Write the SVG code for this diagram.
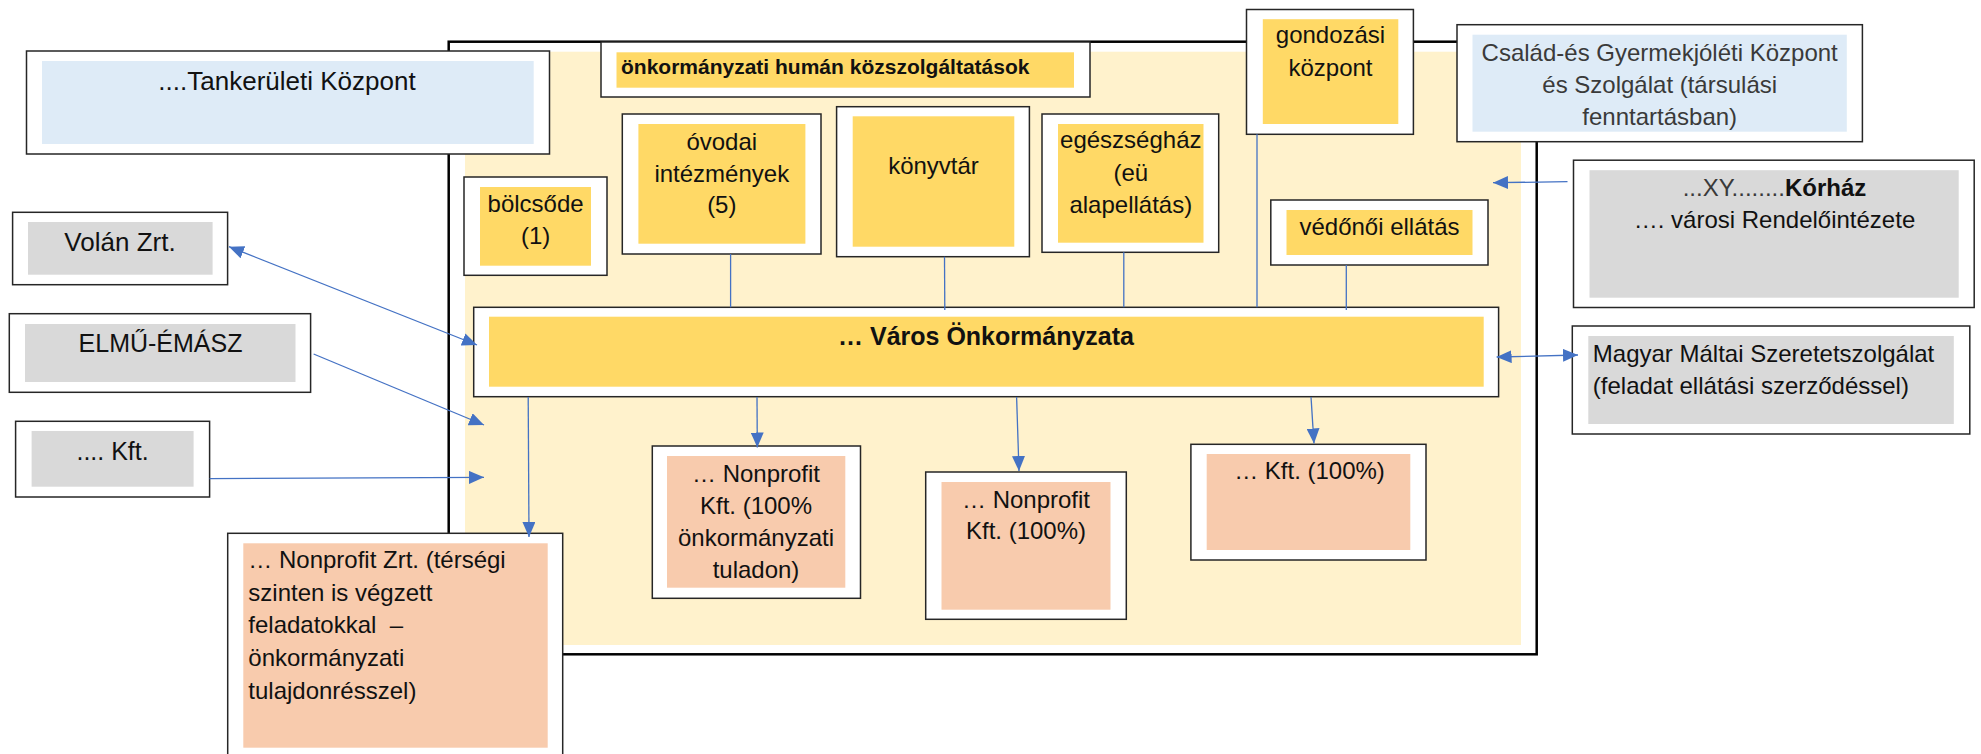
<svg xmlns="http://www.w3.org/2000/svg" width="1981" height="754" viewBox="0 0 1981 754">
<style>
.box{fill:#fff;stroke:#262626;stroke-width:1.5}
.frame{fill:#fff;stroke:#000;stroke-width:2.5}
.bg{fill:#FFF2CC}
.y{fill:#FFD966}
.b{fill:#DEEBF7}
.g{fill:#D9D9D9}
.s{fill:#F8CBAD}
text{font-family:"Liberation Sans",Arial,sans-serif;font-size:24px;fill:#111}
.c{text-anchor:middle}
.bd{font-weight:bold}
.dim{fill:#3a3a3a}
#connectors line{stroke:#4472C4;stroke-width:1.3;fill:none}
</style>
<defs>
<marker id="ah" viewBox="0 0 15 13" markerUnits="userSpaceOnUse" markerWidth="15" markerHeight="13" refX="15" refY="6.5" orient="auto-start-reverse">
<path d="M0,0 L15,6.5 L0,13 z" fill="#4472C4"/>
</marker>
</defs>
<rect width="1981" height="754" fill="#fff"/>

<g id="frame">
<rect class="frame" x="448.7" y="41.7" width="1088" height="612.6"/>
<rect class="bg" x="465" y="51.7" width="1056" height="593.3"/>
</g>

<g id="tankeruleti">
<rect class="box" x="26.5" y="51" width="523" height="103"/>
<rect class="b" x="42" y="61" width="491.7" height="83"/>
<text class="c" x="287" y="90" style="font-size:26px">....Tankerületi Központ</text>
</g>

<g id="human">
<rect class="box" x="601" y="42" width="489" height="55"/>
<rect class="y" x="616.5" y="52.3" width="457.5" height="35.4"/>
<text class="bd" x="621" y="74.3" style="font-size:21px">önkormányzati humán közszolgáltatások</text>
</g>

<g id="bolcsode">
<rect class="box" x="464" y="177" width="143" height="98.3"/>
<rect class="y" x="480" y="187" width="111" height="78.7"/>
<text class="c" x="535.6" y="212">bölcsőde<tspan x="535.6" y="243.5">(1)</tspan></text>
</g>

<g id="ovodai">
<rect class="box" x="622.3" y="114" width="198.7" height="140"/>
<rect class="y" x="638.4" y="124" width="167" height="119.7"/>
<text class="c" x="721.8" y="150">óvodai<tspan x="721.8" y="181.7">intézmények</tspan><tspan x="721.8" y="213">(5)</tspan></text>
</g>

<g id="konyvtar">
<rect class="box" x="836.6" y="106.7" width="192.8" height="150"/>
<rect class="y" x="852.7" y="116.3" width="161.6" height="130.4"/>
<text class="c" x="933.5" y="174">könyvtár</text>
</g>

<g id="egeszseghaz">
<rect class="box" x="1042" y="114" width="176.7" height="138.3"/>
<rect class="y" x="1058" y="124" width="145.5" height="118.7"/>
<text class="c" x="1130.8" y="148.3">egészségház<tspan x="1130.8" y="180.5">(eü</tspan><tspan x="1130.8" y="212.5">alapellátás)</tspan></text>
</g>

<g id="gondozasi">
<rect class="box" x="1246.5" y="9.5" width="166.9" height="124.8"/>
<rect class="y" x="1262.8" y="19.2" width="135.5" height="104.8"/>
<text class="c" x="1330.5" y="42.5">gondozási<tspan x="1330.5" y="76">központ</tspan></text>
</g>

<g id="csalad">
<rect class="box" x="1457" y="24.7" width="405.4" height="117"/>
<rect class="b" x="1472.5" y="34.7" width="374.3" height="97"/>
<text class="c dim" x="1659.7" y="61">Család-és Gyermekjóléti Központ<tspan x="1659.7" y="93">és Szolgálat (társulási</tspan><tspan x="1659.7" y="124.5">fenntartásban)</tspan></text>
</g>

<g id="vedonoi">
<rect class="box" x="1270.8" y="200" width="217.2" height="65"/>
<rect class="y" x="1286.5" y="210" width="186" height="45"/>
<text class="c" x="1379.5" y="235">védőnői ellátás</text>
</g>

<g id="korhaz">
<rect class="box" x="1573.5" y="160.2" width="400.7" height="147.3"/>
<rect class="g" x="1589.5" y="170.2" width="369.2" height="127.5"/>
<text class="c" x="1774.5" y="195.7"><tspan class="dim">...XY........</tspan><tspan class="bd">Kórház</tspan></text>
<text class="c" x="1774.5" y="228.3">…. városi Rendelőintézete</text>
</g>

<g id="magyar">
<rect class="box" x="1572.3" y="326" width="397.5" height="108"/>
<rect class="g" x="1588.3" y="336" width="365.5" height="88"/>
<text x="1592.8" y="361.7">Magyar Máltai Szeretetszolgálat<tspan x="1592.8" y="394">(feladat ellátási szerződéssel)</tspan></text>
</g>

<g id="volan">
<rect class="box" x="12.6" y="212.3" width="215" height="72.4"/>
<rect class="g" x="28" y="222" width="184.6" height="52.7"/>
<text class="c" x="120" y="250.7" style="font-size:26px">Volán Zrt.</text>
</g>

<g id="elmu">
<rect class="box" x="9.3" y="313.7" width="301.3" height="78.6"/>
<rect class="g" x="25" y="324" width="270.5" height="58"/>
<text class="c" x="160.5" y="351.7" style="font-size:25px">ELMŰ-ÉMÁSZ</text>
</g>

<g id="kft-left">
<rect class="box" x="15.6" y="421.3" width="194" height="75.7"/>
<rect class="g" x="31.6" y="431" width="162" height="55.7"/>
<text class="c" x="112.6" y="460" style="font-size:25px">.... Kft.</text>
</g>

<g id="varos">
<rect class="box" x="473.7" y="307.3" width="1024.9" height="89.4"/>
<rect class="y" x="489" y="316.7" width="994.7" height="70"/>
<text class="c bd" x="986" y="345" style="font-size:25px">… Város Önkormányzata</text>
</g>

<g id="nonprofit-zrt">
<rect class="box" x="227.7" y="533.3" width="335" height="226"/>
<rect class="s" x="243.3" y="543.3" width="304.4" height="204.4"/>
<text x="248.3" y="568.3">… Nonprofit Zrt. (térségi<tspan x="248.3" y="600.7">szinten is végzett</tspan><tspan x="248.3" y="633.3">feladatokkal&#160; –</tspan><tspan x="248.3" y="666">önkormányzati</tspan><tspan x="248.3" y="699">tulajdonrésszel)</tspan></text>
</g>

<g id="nonprofit-kft1">
<rect class="box" x="652.3" y="446" width="208.2" height="152.3"/>
<rect class="s" x="667" y="456" width="178.3" height="131.7"/>
<text class="c" x="756" y="481.7">… Nonprofit<tspan x="756" y="513.5">Kft. (100%</tspan><tspan x="756" y="545.7">önkormányzati</tspan><tspan x="756" y="578">tuladon)</tspan></text>
</g>

<g id="nonprofit-kft2">
<rect class="box" x="925.7" y="472" width="200.6" height="147.3"/>
<rect class="s" x="941.5" y="482" width="169" height="127.7"/>
<text class="c" x="1026" y="507.7">… Nonprofit<tspan x="1026" y="539.3">Kft. (100%)</tspan></text>
</g>

<g id="kft3">
<rect class="box" x="1190.9" y="444.3" width="235.1" height="115.7"/>
<rect class="s" x="1206.7" y="454" width="203.6" height="96"/>
<text class="c" x="1309.5" y="479.3">… Kft. (100%)</text>
</g>

<g id="connectors">
<line x1="229" y1="246.7" x2="477" y2="345" marker-start="url(#ah)" marker-end="url(#ah)"/>
<line x1="313.6" y1="354" x2="484" y2="425" marker-end="url(#ah)"/>
<line x1="209.6" y1="478.7" x2="484" y2="477.3" marker-end="url(#ah)"/>
<line x1="528.2" y1="397" x2="529" y2="537" marker-end="url(#ah)"/>
<line x1="757" y1="397" x2="757.3" y2="447.5" marker-end="url(#ah)"/>
<line x1="1016.6" y1="397" x2="1019" y2="471" marker-end="url(#ah)"/>
<line x1="1311" y1="397" x2="1314" y2="443.5" marker-end="url(#ah)"/>
<line x1="1567.5" y1="181.7" x2="1493" y2="182.7" marker-end="url(#ah)"/>
<line x1="1496.6" y1="357" x2="1578" y2="355" marker-start="url(#ah)" marker-end="url(#ah)"/>
<line x1="730.6" y1="254" x2="730.6" y2="307.3"/>
<line x1="944.5" y1="256.7" x2="944.8" y2="310"/>
<line x1="1123.8" y1="252.3" x2="1123.8" y2="307.3"/>
<line x1="1257" y1="134.3" x2="1257" y2="307.3"/>
<line x1="1346.3" y1="265" x2="1346.3" y2="310"/>
</g>
</svg>
